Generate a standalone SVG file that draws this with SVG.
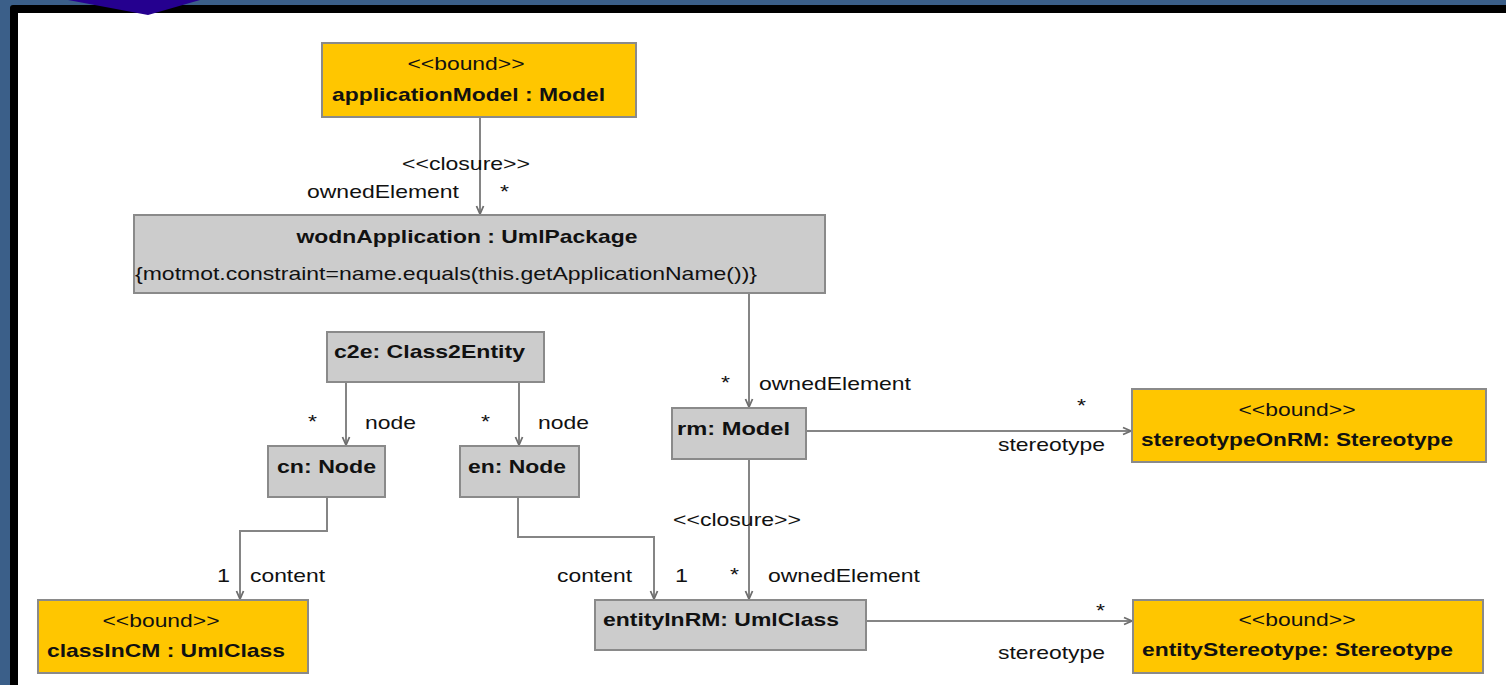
<svg xmlns="http://www.w3.org/2000/svg" width="1506" height="685" viewBox="0 0 1506 685">
  <style>
    .gold { fill: #ffc600; stroke: #8a8a8a; stroke-width: 2; }
    .grey { fill: #cccccc; stroke: #8a8a8a; stroke-width: 2; }
    text { font-family: "Liberation Sans", Arial, sans-serif; font-size: 19px; fill: #111111; }
    .b { font-weight: bold; }
    .mid { text-anchor: middle; }
    .edge { fill: none; stroke: #858585; stroke-width: 2; }
  </style>
  <defs>
    <marker id="arrow" viewBox="0 0 10 10" refX="9" refY="5" markerWidth="10" markerHeight="10" markerUnits="userSpaceOnUse" orient="auto">
      <path d="M1,1.5 L9,5 L1,8.5" fill="none" stroke="#6e6e6e" stroke-width="1.8"/>
    </marker>
  </defs>

  <!-- frame -->
  <rect x="0" y="0" width="1506" height="685" fill="#3b5f89"/>
  <rect x="10" y="5" width="1506" height="700" rx="3" fill="#000000"/>
  <rect x="18" y="13" width="1488" height="672" fill="#ffffff"/>
  <polygon points="68,0 200,0 148,15" fill="#25008f"/>

  <!-- connectors -->
  <g id="connectors">
    <path class="edge" d="M480,117 V214" marker-end="url(#arrow)"/>
    <path class="edge" d="M749,293 V407" marker-end="url(#arrow)"/>
    <path class="edge" d="M346,382 V445" marker-end="url(#arrow)"/>
    <path class="edge" d="M519,382 V445" marker-end="url(#arrow)"/>
    <path class="edge" d="M327,497 V531 H240 V599" marker-end="url(#arrow)"/>
    <path class="edge" d="M518,497 V537 H654 V599" marker-end="url(#arrow)"/>
    <path class="edge" d="M806,431 H1131" marker-end="url(#arrow)"/>
    <path class="edge" d="M749,459 V599" marker-end="url(#arrow)"/>
    <path class="edge" d="M866,621 H1132" marker-end="url(#arrow)"/>

    <text x="402" y="170" textLength="128" lengthAdjust="spacingAndGlyphs">&lt;&lt;closure&gt;&gt;</text>
    <text x="307" y="198" textLength="152" lengthAdjust="spacingAndGlyphs">ownedElement</text>
    <text x="500" y="198" textLength="9" lengthAdjust="spacingAndGlyphs">*</text>

    <text x="308" y="428" textLength="9" lengthAdjust="spacingAndGlyphs">*</text>
    <text x="365" y="429" textLength="51" lengthAdjust="spacingAndGlyphs">node</text>
    <text x="481" y="428" textLength="9" lengthAdjust="spacingAndGlyphs">*</text>
    <text x="538" y="429" textLength="51" lengthAdjust="spacingAndGlyphs">node</text>

    <text x="721" y="389" textLength="9" lengthAdjust="spacingAndGlyphs">*</text>
    <text x="759" y="390" textLength="152" lengthAdjust="spacingAndGlyphs">ownedElement</text>
    <text x="1077" y="412" textLength="9" lengthAdjust="spacingAndGlyphs">*</text>
    <text x="998" y="451" textLength="107" lengthAdjust="spacingAndGlyphs">stereotype</text>

    <text x="673" y="526" textLength="128" lengthAdjust="spacingAndGlyphs">&lt;&lt;closure&gt;&gt;</text>
    <text x="217" y="582" textLength="13" lengthAdjust="spacingAndGlyphs">1</text>
    <text x="250" y="582" textLength="75" lengthAdjust="spacingAndGlyphs">content</text>
    <text x="557" y="582" textLength="75" lengthAdjust="spacingAndGlyphs">content</text>
    <text x="675" y="582" textLength="13" lengthAdjust="spacingAndGlyphs">1</text>
    <text x="730" y="581" textLength="9" lengthAdjust="spacingAndGlyphs">*</text>
    <text x="768" y="582" textLength="152" lengthAdjust="spacingAndGlyphs">ownedElement</text>
    <text x="1096" y="617" textLength="9" lengthAdjust="spacingAndGlyphs">*</text>
    <text x="998" y="659" textLength="107" lengthAdjust="spacingAndGlyphs">stereotype</text>
  </g>

  <!-- nodes -->
  <g id="applicationModel">
    <rect class="gold" x="322" y="43" width="314" height="74"/>
    <text class="mid" x="466" y="70" textLength="117" lengthAdjust="spacingAndGlyphs">&lt;&lt;bound&gt;&gt;</text>
    <text class="b" x="332" y="101" textLength="273" lengthAdjust="spacingAndGlyphs">applicationModel : Model</text>
  </g>

  <g id="wodnApplication">
    <rect class="grey" x="134" y="215" width="691" height="78"/>
    <text class="b mid" x="467" y="243" textLength="341" lengthAdjust="spacingAndGlyphs">wodnApplication : UmlPackage</text>
    <text x="135" y="280" textLength="622" lengthAdjust="spacingAndGlyphs">{motmot.constraint=name.equals(this.getApplicationName())}</text>
  </g>

  <g id="c2e">
    <rect class="grey" x="327" y="332" width="217" height="50"/>
    <text class="b" x="334" y="358" textLength="191" lengthAdjust="spacingAndGlyphs">c2e: Class2Entity</text>
  </g>

  <g id="cn">
    <rect class="grey" x="268" y="446" width="117" height="51"/>
    <text class="b" x="277" y="473" textLength="99" lengthAdjust="spacingAndGlyphs">cn: Node</text>
  </g>

  <g id="en">
    <rect class="grey" x="460" y="446" width="119" height="51"/>
    <text class="b" x="468" y="473" textLength="98" lengthAdjust="spacingAndGlyphs">en: Node</text>
  </g>

  <g id="rm">
    <rect class="grey" x="672" y="408" width="134" height="51"/>
    <text class="b" x="677" y="435" textLength="113" lengthAdjust="spacingAndGlyphs">rm: Model</text>
  </g>

  <g id="stereotypeOnRM">
    <rect class="gold" x="1132" y="389" width="354" height="73"/>
    <text class="mid" x="1297" y="416" textLength="117" lengthAdjust="spacingAndGlyphs">&lt;&lt;bound&gt;&gt;</text>
    <text class="b" x="1141" y="446" textLength="312" lengthAdjust="spacingAndGlyphs">stereotypeOnRM: Stereotype</text>
  </g>

  <g id="classInCM">
    <rect class="gold" x="38" y="600" width="270" height="73"/>
    <text class="mid" x="161" y="627" textLength="117" lengthAdjust="spacingAndGlyphs">&lt;&lt;bound&gt;&gt;</text>
    <text class="b" x="47" y="657" textLength="238" lengthAdjust="spacingAndGlyphs">classInCM : UmlClass</text>
  </g>

  <g id="entityInRM">
    <rect class="grey" x="595" y="600" width="271" height="50"/>
    <text class="b" x="603" y="626" textLength="236" lengthAdjust="spacingAndGlyphs">entityInRM: UmlClass</text>
  </g>

  <g id="entityStereotype">
    <rect class="gold" x="1133" y="600" width="350" height="73"/>
    <text class="mid" x="1297" y="626" textLength="117" lengthAdjust="spacingAndGlyphs">&lt;&lt;bound&gt;&gt;</text>
    <text class="b" x="1142" y="656" textLength="311" lengthAdjust="spacingAndGlyphs">entityStereotype: Stereotype</text>
  </g>
</svg>
